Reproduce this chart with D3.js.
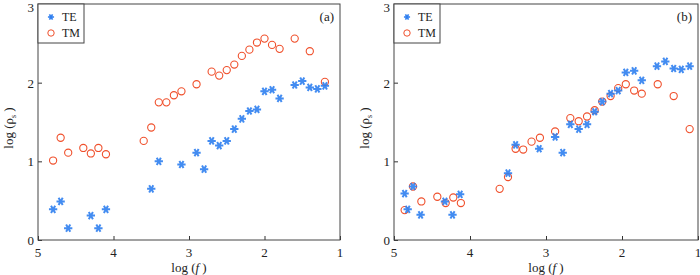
<!DOCTYPE html>
<html>
<head>
<meta charset="utf-8">
<script src="https://cdn.jsdelivr.net/npm/d3@7"></script>
<style>
  body { margin: 0; background: #fff; }
  svg { display: block; font-family: "Liberation Serif", "Times New Roman", serif; }
</style>
</head>
<body>
<div id="chart"></div>
<script>
// panel (a)
const teA_x = [4.8, 4.7, 4.6, 4.3, 4.2, 4.1, 3.5, 3.4, 3.1, 2.9, 2.8, 2.7, 2.6, 2.5, 2.4, 2.3, 2.2, 2.1, 2.0, 1.9, 1.8, 1.6, 1.5, 1.4, 1.3, 1.2];
const teA_y = [0.39, 0.49, 0.15, 0.31, 0.15, 0.39, 0.65, 1.0, 0.96, 1.11, 0.90, 1.26, 1.20, 1.26, 1.41, 1.54, 1.64, 1.66, 1.89, 1.91, 1.80, 1.97, 2.02, 1.94, 1.92, 1.96];
const tmA_x = [4.8, 4.7, 4.6, 4.4, 4.3, 4.2, 4.1, 3.6, 3.5, 3.4, 3.3, 3.2, 3.1, 2.9, 2.7, 2.6, 2.5, 2.4, 2.3, 2.2, 2.1, 2.0, 1.9, 1.8, 1.6, 1.4, 1.2];
const tmA_y = [1.01, 1.30, 1.11, 1.17, 1.10, 1.17, 1.09, 1.26, 1.43, 1.75, 1.75, 1.84, 1.89, 1.98, 2.14, 2.09, 2.16, 2.23, 2.34, 2.42, 2.51, 2.56, 2.48, 2.43, 2.56, 2.40, 2.01];

// panel (b)
const teB_x = [4.86, 4.82, 4.75, 4.65, 4.33, 4.23, 4.13, 3.5, 3.4, 3.09, 2.88, 2.78, 2.68, 2.57, 2.46, 2.36, 2.26, 2.15, 2.05, 1.95, 1.84, 1.74, 1.54, 1.43, 1.32, 1.22, 1.11];
const teB_y = [0.59, 0.39, 0.68, 0.32, 0.49, 0.32, 0.58, 0.85, 1.21, 1.16, 1.31, 1.11, 1.47, 1.41, 1.47, 1.63, 1.76, 1.86, 1.90, 2.13, 2.15, 2.03, 2.21, 2.27, 2.18, 2.17, 2.21];
const tmB_x = [4.86, 4.75, 4.64, 4.43, 4.32, 4.22, 4.12, 3.61, 3.5, 3.4, 3.3, 3.19, 3.08, 2.88, 2.68, 2.57, 2.46, 2.36, 2.26, 2.15, 2.05, 1.95, 1.84, 1.74, 1.53, 1.32, 1.11];
const tmB_y = [0.38, 0.68, 0.49, 0.55, 0.47, 0.54, 0.47, 0.65, 0.80, 1.16, 1.15, 1.25, 1.30, 1.38, 1.55, 1.51, 1.57, 1.65, 1.76, 1.83, 1.93, 1.98, 1.90, 1.86, 1.98, 1.83, 1.41];

const xTicks = [5, 4, 3, 2, 1];
const yTicks = [0, 1, 2, 3];
const seriesNames = ["TE", "TM"];

const teColor = "#2f7ff0", tmColor = "#f0502c";

const svg = d3.select("#chart").append("svg")
    .attr("width", 700)
    .attr("height", 275);

const asterisk = d3.symbol().type(d3.symbolAsterisk).size(48);
const asteriskSmall = d3.symbol().type(d3.symbolAsterisk).size(26);

function drawPanel(left, right, tag, te_x, te_y, tm_x, tm_y) {
    const top = 4, bottom = 240;
    const x = d3.scaleLinear().domain([5, 1]).range([left, right]);
    const y = d3.scaleLinear().domain([0, 3]).range([bottom, top]);

    const g = svg.append("g");

    // inward ticks
    g.append("g")
        .attr("transform", "translate(0," + bottom + ")")
        .call(d3.axisTop(x).tickValues(xTicks).tickSize(4).tickFormat(""))
        .call(a => a.select(".domain").remove())
        .selectAll("line").attr("stroke", "#333");
    g.append("g")
        .attr("transform", "translate(" + left + ",0)")
        .call(d3.axisRight(y).tickValues(yTicks).tickSize(4).tickFormat(""))
        .call(a => a.select(".domain").remove())
        .selectAll("line").attr("stroke", "#333");

    // tick labels
    g.selectAll(".xl").data(xTicks).enter().append("text")
        .attr("x", d => x(d)).attr("y", bottom + 17)
        .attr("text-anchor", "middle").attr("font-size", 13).attr("fill", "#222")
        .text(d => d);
    g.selectAll(".yl").data(yTicks).enter().append("text")
        .attr("x", left - 4).attr("y", d => Math.max(y(d) + 5, 12))
        .attr("text-anchor", "end").attr("font-size", 13).attr("fill", "#222")
        .text(d => d);

    // frame
    g.append("rect")
        .attr("x", left).attr("y", top)
        .attr("width", right - left).attr("height", bottom - top)
        .attr("fill", "none").attr("stroke", "#444").attr("stroke-width", 1);

    // axis titles
    const xt = g.append("text")
        .attr("x", (left + right) / 2).attr("y", bottom + 32)
        .attr("text-anchor", "middle").attr("font-size", 13).attr("fill", "#222");
    xt.append("tspan").text("log (");
    xt.append("tspan").attr("font-style", "italic").text("f");
    xt.append("tspan").text(" )");

    const yt = g.append("text")
        .attr("transform", "translate(" + (left - 25) + "," + ((top + bottom) / 2 + 6) + ") rotate(-90)")
        .attr("text-anchor", "middle").attr("font-size", 13).attr("fill", "#222");
    yt.append("tspan").text("log (ρ");
    yt.append("tspan").attr("font-size", 8).attr("dy", 3).text("s");
    yt.append("tspan").attr("dy", -3).text(" )");

    // panel tag
    g.append("text")
        .attr("x", right - 6).attr("y", 21)
        .attr("text-anchor", "end").attr("font-size", 13).attr("fill", "#222")
        .text(tag);

    // TM circles
    g.selectAll(".tm").data(d3.zip(tm_x, tm_y)).enter().append("circle")
        .attr("cx", d => x(d[0])).attr("cy", d => y(d[1])).attr("r", 3.6)
        .attr("fill", "none").attr("stroke", tmColor).attr("stroke-width", 1.1);

    // TE asterisks
    g.selectAll(".te").data(d3.zip(te_x, te_y)).enter().append("path")
        .attr("d", asterisk)
        .attr("transform", d => "translate(" + x(d[0]) + "," + y(d[1]) + ") rotate(90)")
        .attr("fill", "none").attr("stroke", teColor).attr("stroke-width", 2)
        .attr("stroke-opacity", 0.9);

    // legend
    const lg = g.append("g");
    lg.append("rect")
        .attr("x", left).attr("y", top)
        .attr("width", 46).attr("height", 39)
        .attr("fill", "#fff").attr("stroke", "#444");
    lg.append("path").attr("d", asteriskSmall)
        .attr("transform", "translate(" + (left + 13) + "," + (top + 13) + ") rotate(90)")
        .attr("fill", "none").attr("stroke", teColor).attr("stroke-width", 1.6);
    lg.append("circle").attr("cx", left + 13).attr("cy", top + 29).attr("r", 3.2)
        .attr("fill", "none").attr("stroke", tmColor).attr("stroke-width", 1);
    lg.selectAll(".lt").data(seriesNames).enter().append("text")
        .attr("x", left + 24).attr("y", (d, i) => top + 17 + i * 16)
        .attr("font-size", 12).attr("fill", "#222")
        .text(d => d);
}

drawPanel(38, 340, "(a)", teA_x, teA_y, tmA_x, tmA_y);
drawPanel(394, 698, "(b)", teB_x, teB_y, tmB_x, tmB_y);
</script>
</body>
</html>
